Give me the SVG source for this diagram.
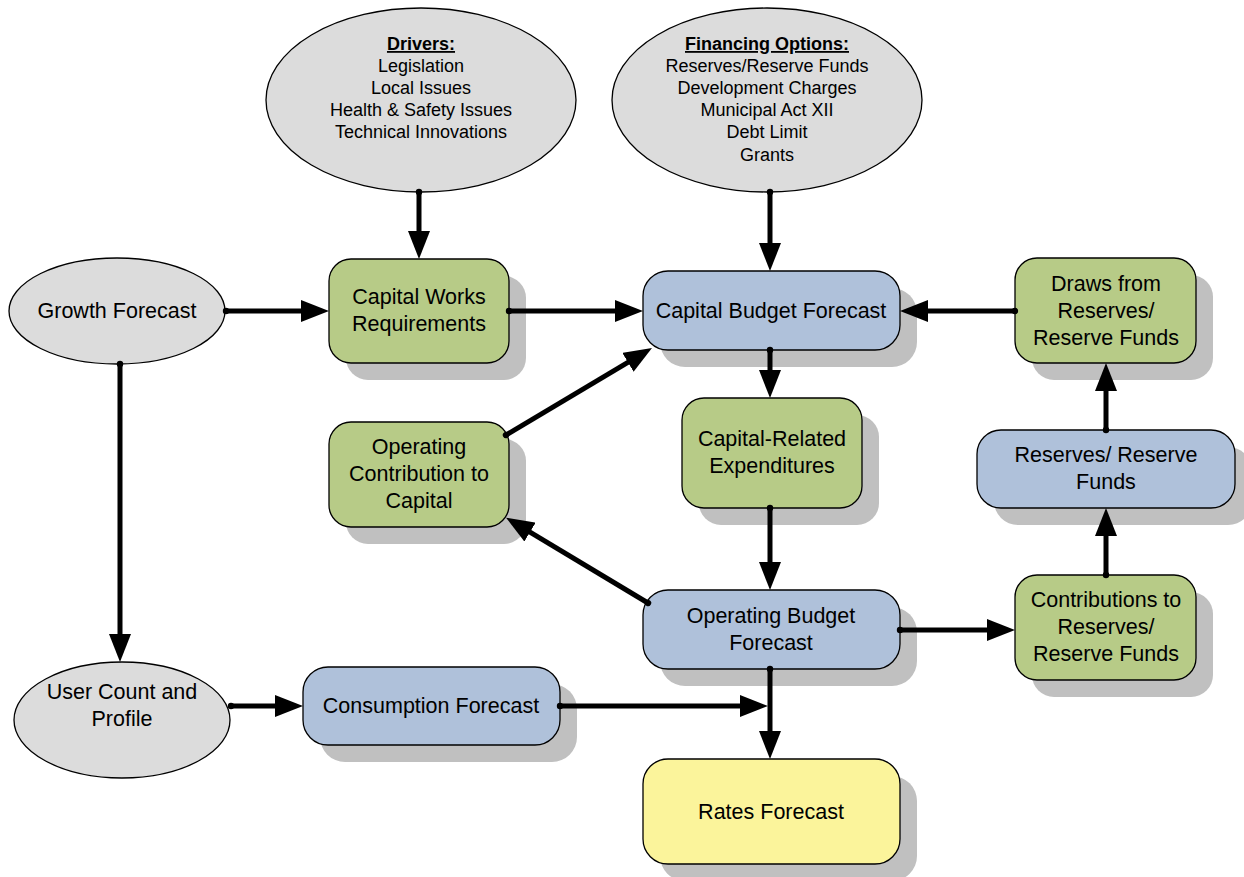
<svg xmlns="http://www.w3.org/2000/svg" width="1244" height="877" viewBox="0 0 1244 877">
<style>
.ell{fill:#dcdcdc;stroke:#000;stroke-width:1.3}
.shadow{fill:#c0c0c0}
.green{fill:#b7cb87;stroke:#000;stroke-width:1.3}
.blue{fill:#afc1da;stroke:#000;stroke-width:1.3}
.yellow{fill:#fbf49b;stroke:#000;stroke-width:1.3}
.t{font-family:"Liberation Sans",Arial,sans-serif;font-size:21.5px;fill:#000;text-anchor:middle}
.s{font-family:"Liberation Sans",Arial,sans-serif;font-size:18px;fill:#000;text-anchor:middle}
.h{font-weight:bold;text-decoration:underline}
.c{fill:none;stroke:#000;stroke-width:5;marker-end:url(#ah);marker-start:url(#dot)}
</style>
<defs>
<marker id="ah" markerUnits="userSpaceOnUse" markerWidth="30" markerHeight="22" refX="18" refY="11" orient="auto">
<path d="M0,0 L28,11 L0,22 z" fill="#000"/>
</marker>
<marker id="dot" markerUnits="userSpaceOnUse" markerWidth="8" markerHeight="8" refX="4" refY="4" orient="auto">
<circle cx="4" cy="4" r="3.2" fill="#000"/>
</marker>
</defs>
<rect width="1244" height="877" fill="#fff"/>

<g id="drivers">
<ellipse class="ell" cx="421" cy="100" rx="155" ry="92"/>
<text class="s h" x="421" y="50">Drivers:</text>
<text class="s" x="421" y="72">Legislation</text>
<text class="s" x="421" y="94">Local Issues</text>
<text class="s" x="421" y="116">Health &amp; Safety Issues</text>
<text class="s" x="421" y="138">Technical Innovations</text>
</g>

<g id="financing">
<ellipse class="ell" cx="767" cy="100" rx="155" ry="92"/>
<text class="s h" x="767" y="50">Financing Options:</text>
<text class="s" x="767" y="72">Reserves/Reserve Funds</text>
<text class="s" x="767" y="94">Development Charges</text>
<text class="s" x="767" y="116">Municipal Act XII</text>
<text class="s" x="767" y="138">Debt Limit</text>
<text class="s" x="767" y="161">Grants</text>
</g>

<g id="growth">
<ellipse class="ell" cx="117" cy="311" rx="108" ry="53"/>
<text class="t" x="117" y="318">Growth Forecast</text>
</g>

<g id="capworks">
<rect class="shadow" x="346" y="276" width="180" height="104" rx="22"/>
<rect class="green" x="329" y="259" width="180" height="104" rx="22"/>
<text class="t" x="419" y="304">Capital Works</text>
<text class="t" x="419" y="331">Requirements</text>
</g>

<g id="capbudget">
<rect class="shadow" x="660" y="288" width="257" height="79" rx="25"/>
<rect class="blue" x="643" y="271" width="257" height="79" rx="25"/>
<text class="t" x="771" y="318">Capital Budget Forecast</text>
</g>

<g id="draws">
<rect class="shadow" x="1032" y="275" width="181" height="105" rx="22"/>
<rect class="green" x="1015" y="258" width="181" height="105" rx="22"/>
<text class="t" x="1106" y="291">Draws from</text>
<text class="t" x="1106" y="318">Reserves/</text>
<text class="t" x="1106" y="345">Reserve Funds</text>
</g>

<g id="opcontrib">
<rect class="shadow" x="346" y="439" width="180" height="105" rx="22"/>
<rect class="green" x="329" y="422" width="180" height="105" rx="22"/>
<text class="t" x="419" y="454">Operating</text>
<text class="t" x="419" y="481">Contribution to</text>
<text class="t" x="419" y="508">Capital</text>
</g>

<g id="caprelated">
<rect class="shadow" x="699" y="415" width="180" height="110" rx="22"/>
<rect class="green" x="682" y="398" width="180" height="110" rx="22"/>
<text class="t" x="772" y="446">Capital-Related</text>
<text class="t" x="772" y="473">Expenditures</text>
</g>

<g id="reserves">
<rect class="shadow" x="994" y="447" width="258" height="78" rx="24"/>
<rect class="blue" x="977" y="430" width="258" height="78" rx="24"/>
<text class="t" x="1106" y="462">Reserves/ Reserve</text>
<text class="t" x="1106" y="489">Funds</text>
</g>

<g id="opbudget">
<rect class="shadow" x="660" y="607" width="257" height="79" rx="25"/>
<rect class="blue" x="643" y="590" width="257" height="79" rx="25"/>
<text class="t" x="771" y="623">Operating Budget</text>
<text class="t" x="771" y="650">Forecast</text>
</g>

<g id="contributions">
<rect class="shadow" x="1032" y="592" width="181" height="105" rx="22"/>
<rect class="green" x="1015" y="575" width="181" height="105" rx="22"/>
<text class="t" x="1106" y="607">Contributions to</text>
<text class="t" x="1106" y="634">Reserves/</text>
<text class="t" x="1106" y="661">Reserve Funds</text>
</g>

<g id="usercount">
<ellipse class="ell" cx="122" cy="720" rx="108" ry="58"/>
<text class="t" x="122" y="699">User Count and</text>
<text class="t" x="122" y="726">Profile</text>
</g>

<g id="consumption">
<rect class="shadow" x="320" y="684" width="257" height="78" rx="25"/>
<rect class="blue" x="303" y="667" width="257" height="78" rx="25"/>
<text class="t" x="431" y="713">Consumption Forecast</text>
</g>

<g id="rates">
<rect class="shadow" x="660" y="776" width="257" height="105" rx="25"/>
<rect class="yellow" x="643" y="759" width="257" height="105" rx="25"/>
<text class="t" x="771" y="819">Rates Forecast</text>
</g>

<g id="connectors">
<path class="c" d="M419,192 L419,249"/>
<path class="c" d="M770,192 L770,261"/>
<path class="c" d="M226,311 L319,311"/>
<path class="c" d="M509,311 L633,311"/>
<path class="c" d="M1015,311 L910,311"/>
<path class="c" d="M770,350 L770,388"/>
<path class="c" d="M506,435 L643.4,353.1"/>
<path class="c" d="M648,603 L514.6,522.8"/>
<path class="c" d="M770,508 L770,580"/>
<path class="c" d="M900,630 L1005,630"/>
<path class="c" d="M1106,575 L1106,518"/>
<path class="c" d="M1106,430 L1106,373"/>
<path class="c" d="M120,364 L120,652"/>
<path class="c" d="M231,706 L293,706"/>
<path class="c" d="M560,706 L758,706"/>
<path class="c" d="M770,669 L770,749"/>
</g>
</svg>
